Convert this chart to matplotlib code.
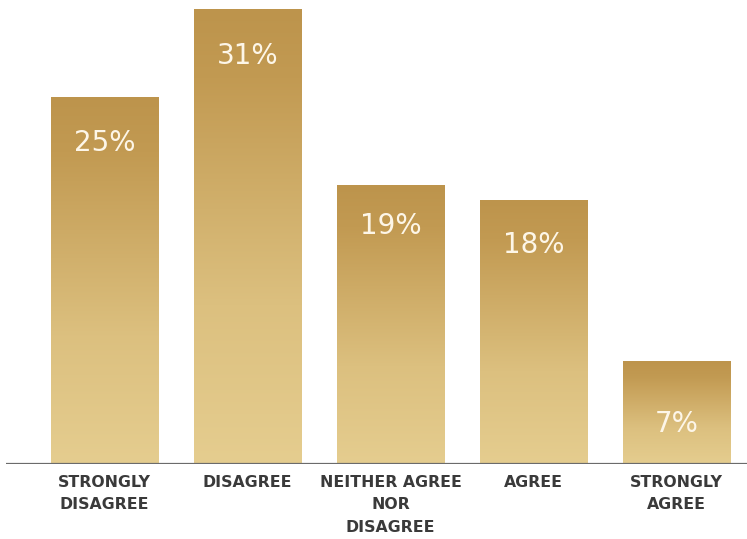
import matplotlib

matplotlib.use("Agg")

import matplotlib.pyplot as plt
import numpy as np
from matplotlib.colors import LinearSegmentedColormap

categories = ["STRONGLY\nDISAGREE", "DISAGREE", "NEITHER AGREE\nNOR\nDISAGREE", "AGREE", "STRONGLY\nAGREE"]
shares = [25, 31, 19, 18, 7]
value_labels = ["25%", "31%", "19%", "18%", "7%"]

# pixel distance from bar top to label centre
label_drop_px = [46, 47, 41, 45, 63]

W, H = 747, 539
fig = plt.figure(figsize=(W / 100, H / 100), dpi=100)
base_px = 464
ax = fig.add_axes([6 / W, (H - base_px) / H, 741 / W, base_px / H])

spacing_px = 143
first_px = 104.5
x = np.arange(len(shares))
xlim = ((6 - first_px) / spacing_px, (747 - first_px) / spacing_px)
ylim = (0, base_px / (455 / 31))

gold = LinearSegmentedColormap.from_list(
    "gold", [(0.0, "#e5cd8f"), (0.35, "#dcc07f"), (0.85, "#c29a52"), (1.0, "#bd944c")]
)
grad = np.linspace(0, 1, 256).reshape(-1, 1)

bars = ax.bar(x, shares, width=0.75, color="none", edgecolor="none")
for bar in bars:
    x0, w, h = bar.get_x(), bar.get_width(), bar.get_height()
    im = ax.imshow(grad, cmap=gold, aspect="auto", origin="lower",
                   extent=[x0, x0 + w, 0, h], zorder=1, interpolation="bilinear")
    im.set_clip_path(bar)

ax.set_xlim(*xlim)
ax.set_ylim(*ylim)

for xi, v, lab, drop in zip(x, shares, value_labels, label_drop_px):
    ax.annotate(lab, (xi, v), xytext=(0, -drop * 0.72), textcoords="offset points",
                ha="center", va="center", fontsize=20, color="#fdf6e8", zorder=3)

ax.axhline(0, color="#6b6b6b", linewidth=1.6, zorder=4)

for xi, cat in zip(x, categories):
    ax.annotate(cat, (xi, 0), xytext=(0, -8), textcoords="offset points",
                ha="center", va="top", fontsize=11.3, fontweight="bold",
                family="DejaVu Sans", color="#3a3a3a", linespacing=1.6)

ax.set_xticks([])
ax.set_yticks([])
for s in ax.spines.values():
    s.set_visible(False)
ax.patch.set_alpha(0)

fig.savefig("out.png", dpi=100)
plt.close(fig)
